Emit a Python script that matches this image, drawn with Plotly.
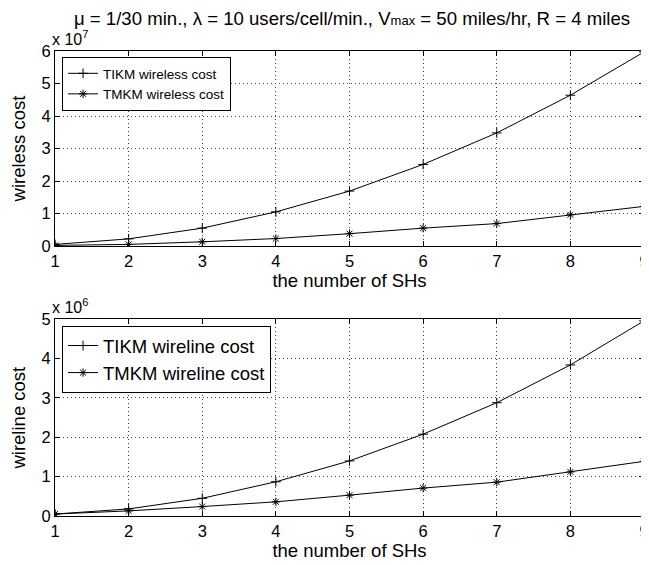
import plotly.graph_objects as go
from plotly.subplots import make_subplots

num_sh = [1, 2, 3, 4, 5, 6, 7, 8, 9]

# wireless cost, in units of 1e7
tikm_wireless = [0.05, 0.22, 0.55, 1.05, 1.69, 2.51, 3.48, 4.64, 5.97]
tmkm_wireless = [0.02, 0.05, 0.13, 0.23, 0.38, 0.55, 0.69, 0.96, 1.22]

# wireline cost, in units of 1e6
tikm_wireline = [0.05, 0.18, 0.45, 0.87, 1.40, 2.08, 2.88, 3.84, 4.96]
tmkm_wireline = [0.05, 0.13, 0.24, 0.36, 0.53, 0.71, 0.86, 1.12, 1.39]

x_ticks = [1, 2, 3, 4, 5, 6, 7, 8, 9]
y1_ticks = [0, 1, 2, 3, 4, 5, 6]
y2_ticks = [0, 1, 2, 3, 4, 5]

FONT = "Liberation Sans, Arial, Helvetica, sans-serif"

fig = make_subplots(rows=2, cols=1, vertical_spacing=0.0)

line = dict(color="black", width=1)
plus = dict(symbol="cross-thin-open", size=7, color="black", line=dict(color="black", width=1))
star = dict(symbol="asterisk-open", size=7, color="black", line=dict(color="black", width=1))

fig.add_trace(go.Scatter(x=num_sh, y=tikm_wireless, mode="lines+markers", name="TIKM wireless cost",
                         line=line, marker=plus, legend="legend"), row=1, col=1)
fig.add_trace(go.Scatter(x=num_sh, y=tmkm_wireless, mode="lines+markers", name="TMKM wireless cost",
                         line=line, marker=star, legend="legend"), row=1, col=1)
fig.add_trace(go.Scatter(x=num_sh, y=tikm_wireline, mode="lines+markers", name="TIKM wireline cost",
                         line=line, marker=plus, legend="legend2"), row=2, col=1)
fig.add_trace(go.Scatter(x=num_sh, y=tmkm_wireline, mode="lines+markers", name="TMKM wireline cost",
                         line=line, marker=star, legend="legend2"), row=2, col=1)

axis_common = dict(showline=True, linecolor="black", linewidth=1, mirror="ticks",
                   ticks="inside", ticklen=5, tickcolor="black", automargin=False,
                   showgrid=True, gridcolor="#444444", griddash="1px,3px", gridwidth=1,
                   zeroline=False, tickfont=dict(size=16.5, color="black", family=FONT))

fig.update_xaxes(axis_common, range=[1, 9], tickvals=x_ticks,
                 title=dict(text="the number of SHs", font=dict(size=18.5, color="black", family=FONT), standoff=2))
fig.update_yaxes(axis_common)
fig.update_yaxes(range=[0, 6], tickvals=y1_ticks, domain=[0.5806, 1.0],
                 title=dict(text="wireless cost", font=dict(size=18.5, color="black", family=FONT), standoff=12),
                 row=1, col=1)
fig.update_yaxes(range=[0, 5], tickvals=y2_ticks, domain=[0.0, 0.423],
                 title=dict(text="wireline cost", font=dict(size=18.5, color="black", family=FONT), standoff=12),
                 row=2, col=1)

fig.update_layout(
    width=641, height=557,
    margin=dict(l=47, r=5, t=43, b=49),
    paper_bgcolor="white", plot_bgcolor="white",
    font=dict(family=FONT, color="black"),
    showlegend=True,
    title=dict(text="μ = 1/30 min., λ = 10 users/cell/min., V<span style='font-size:13px'>max</span> = 50 miles/hr, R = 4 miles",
               x=0.5367, xanchor="center", y=0.982, yanchor="middle",
               font=dict(size=18.6, color="black", family=FONT)),
    legend=dict(x=0.012, y=0.987, xanchor="left", yanchor="top",
                bordercolor="black", borderwidth=1, bgcolor="white",
                font=dict(size=13.5, color="black", family=FONT), tracegroupgap=0,
                itemwidth=30),
    legend2=dict(x=0.012, y=0.4086, xanchor="left", yanchor="top",
                 bordercolor="black", borderwidth=1, bgcolor="white",
                 font=dict(size=18.5, color="black", family=FONT), tracegroupgap=0,
                 itemwidth=30),
    annotations=[
        dict(text="x 10<sup>7</sup>", xref="paper", yref="paper", x=-0.0085, y=1.0,
             xanchor="left", yanchor="bottom", showarrow=False, yshift=1,
             font=dict(size=16, color="black", family=FONT)),
        dict(text="x 10<sup>6</sup>", xref="paper", yref="paper", x=-0.0085, y=0.423,
             xanchor="left", yanchor="bottom", showarrow=False, yshift=1,
             font=dict(size=16, color="black", family=FONT)),
    ],
)

fig.write_html("out.html")
